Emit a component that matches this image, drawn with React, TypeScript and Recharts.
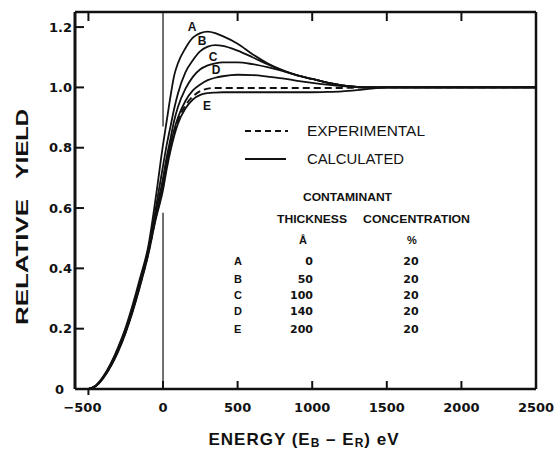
import React from 'react'
import { LineChart, Line, XAxis, YAxis, ReferenceLine } from 'recharts'

// energy grid (eV) and relative yields
const energy = [-500, -450, -400, -350, -300, -250, -200, -150, -100, -50, 0, 25, 50, 75, 100, 150, 200, 250, 300, 350, 400, 500, 600, 700, 800, 900, 1000, 1100, 1200, 1300, 1400, 1500, 2000, 2500]
const curveA = [0, 0.012, 0.042, 0.085, 0.14, 0.205, 0.285, 0.375, 0.47, 0.63, 0.81, 0.89, 0.97, 1.04, 1.08, 1.13, 1.165, 1.18, 1.185, 1.18, 1.17, 1.145, 1.11, 1.08, 1.057, 1.04, 1.028, 1.016, 1.007, 1.002, 1.0, 1.0, 1.0, 1.0]
const curveB = [0, 0.011, 0.04, 0.082, 0.135, 0.198, 0.275, 0.365, 0.46, 0.595, 0.74, 0.81, 0.87, 0.93, 0.98, 1.05, 1.09, 1.12, 1.135, 1.14, 1.138, 1.122, 1.1, 1.077, 1.056, 1.04, 1.028, 1.016, 1.007, 1.002, 1.0, 1.0, 1.0, 1.0]
const curveC = [0, 0.011, 0.04, 0.08, 0.132, 0.195, 0.27, 0.36, 0.455, 0.58, 0.7, 0.77, 0.83, 0.89, 0.935, 0.995, 1.035, 1.06, 1.073, 1.08, 1.083, 1.083, 1.077, 1.067, 1.055, 1.04, 1.028, 1.016, 1.007, 1.002, 1.0, 1.0, 1.0, 1.0]
const curveD = [0, 0.01, 0.038, 0.078, 0.13, 0.192, 0.267, 0.355, 0.45, 0.57, 0.68, 0.75, 0.81, 0.86, 0.9, 0.955, 0.99, 1.01, 1.024, 1.032, 1.037, 1.042, 1.041, 1.036, 1.03, 1.022, 1.015, 1.009, 1.004, 1.001, 1.0, 1.0, 1.0, 1.0]
const curveE = [0, 0.01, 0.036, 0.075, 0.125, 0.187, 0.262, 0.348, 0.443, 0.56, 0.66, 0.73, 0.79, 0.84, 0.88, 0.93, 0.96, 0.975, 0.981, 0.983, 0.984, 0.984, 0.984, 0.984, 0.984, 0.984, 0.984, 0.985, 0.987, 0.991, 0.996, 1.0, 1.0, 1.0]
const experimental = [0, 0.01, 0.037, 0.077, 0.128, 0.19, 0.265, 0.352, 0.447, 0.565, 0.67, 0.74, 0.8, 0.85, 0.89, 0.94, 0.97, 0.988, 0.996, 0.998, 0.998, 0.998, 0.998, 0.998, 0.998, 0.998, 0.998, 0.998, 0.998, 0.999, 1.0, 1.0, 1.0, 1.0]

const xTicks = [-500, 0, 500, 1000, 1500, 2000, 2500]
const yTicks = [0, 0.2, 0.4, 0.6, 0.8, 1.0, 1.2]

const rowNames = ['A', 'B', 'C', 'D', 'E']
const thickness = [0, 50, 100, 140, 200]
const concentration = [20, 20, 20, 20, 20]

const data = energy.map((e, i) => ({
  energy: e,
  A: curveA[i],
  B: curveB[i],
  C: curveC[i],
  D: curveD[i],
  E: curveE[i],
  exp: experimental[i],
}))

const NUM = '"DejaVu Sans", sans-serif'
const TXT = '"Liberation Sans", Arial, sans-serif'
const INK = '#111'

// axis boxes are 1px wide/high, so the tick props sit 1px off the frame
const BottomTick = (props: any) => {
  const { x, payload } = props
  const y = props.y - 1
  const v = payload.value
  const label = v < 0 ? `\u2212${Math.abs(v)}` : String(v)
  return (
    <g>
      <line x1={x} x2={x} y1={y} y2={v === -500 ? y + 7 : y - 7} stroke={INK} strokeWidth={2} />
      <text x={v < 0 ? x - 6 : x} y={y + 19} textAnchor='middle' dominantBaseline='central'
        fontFamily={NUM} fontWeight='bold' fontSize={13} fill={INK}>{label}</text>
    </g>
  )
}

const TopTick = (props: any) => {
  const { x, payload } = props
  const y = props.y + 1
  if (payload.value === 0 || payload.value === 2500) return <g />
  return <line x1={x} x2={x} y1={y} y2={y + 8} stroke={INK} strokeWidth={2} />
}

const LeftTick = (props: any) => {
  const { y, payload } = props
  const x = props.x + 1
  const v = payload.value
  const label = v === 0 ? '0' : v.toFixed(1)
  return (
    <g>
      {v !== 0 && <line x1={x} x2={x + 8} y1={y} y2={y} stroke={INK} strokeWidth={2} />}
      <text x={v === 0 ? x - 12 : x - 4} y={y} textAnchor='end' dominantBaseline='central'
        fontFamily={NUM} fontWeight='bold' fontSize={13} fill={INK}>{label}</text>
    </g>
  )
}

const RightTick = (props: any) => {
  const { y, payload } = props
  const x = props.x - 1
  if (payload.value === 0) return <g />
  return <line x1={x} x2={x - 9} y1={y} y2={y} stroke={INK} strokeWidth={2} />
}

const lineProps = {
  type: 'monotone' as const,
  stroke: INK,
  strokeWidth: 1.8,
  dot: false,
  activeDot: false,
  isAnimationActive: false,
}

export default function App() {
  return (
    <div style={{ position: 'absolute', left: 0, top: 0, width: 559, height: 454, background: '#fff' }}>
      <LineChart width={559} height={454} data={data}
        margin={{ top: 11, right: 22, bottom: 64, left: 74 }}>
        <XAxis dataKey='energy' type='number' domain={[-590, 2500]} ticks={xTicks}
          height={1} tickSize={0} tickMargin={0} tick={<BottomTick />}
          axisLine={{ stroke: INK, strokeWidth: 2.5 }} tickLine={false} interval={0} />
        <XAxis xAxisId='top' orientation='top' dataKey='energy' type='number' domain={[-590, 2500]}
          ticks={xTicks} height={1} tickSize={0} tickMargin={0} tick={<TopTick />}
          axisLine={{ stroke: INK, strokeWidth: 2.5 }} tickLine={false} interval={0} />
        <YAxis type='number' domain={[0, 1.25]} ticks={yTicks} width={1} tickSize={0} tickMargin={0}
          tick={<LeftTick />} axisLine={{ stroke: INK, strokeWidth: 3 }} tickLine={false} interval={0} />
        <YAxis yAxisId='right' orientation='right' type='number' domain={[0, 1.25]} ticks={yTicks}
          width={1} tickSize={0} tickMargin={0} tick={<RightTick />}
          axisLine={{ stroke: INK, strokeWidth: 2.5 }} tickLine={false} interval={0} />

        <ReferenceLine segment={[{ x: 0, y: 0 }, { x: 0, y: 0.584 }]} stroke={INK} strokeWidth={1.2} />
        <ReferenceLine segment={[{ x: 0, y: 0.87 }, { x: 0, y: 1.25 }]} stroke={INK} strokeWidth={1.2} />

        <Line dataKey='exp' {...lineProps} strokeDasharray='7 4' />
        <Line dataKey='E' {...lineProps} />
        <Line dataKey='D' {...lineProps} />
        <Line dataKey='C' {...lineProps} />
        <Line dataKey='B' {...lineProps} />
        <Line dataKey='A' {...lineProps} />

        {/* curve labels */}
        <g fontFamily={TXT} fontWeight='bold' fontSize={12} fill={INK} textAnchor='middle' dominantBaseline='central'>
          <text x={192} y={27}>A</text>
          <text x={202} y={41}>B</text>
          <text x={213} y={57}>C</text>
          <text x={216} y={70}>D</text>
          <text x={207} y={106}>E</text>
        </g>

        {/* legend */}
        <line x1={245} x2={288} y1={131} y2={131} stroke={INK} strokeWidth={1.8} strokeDasharray='6 4' />
        <line x1={245} x2={286} y1={159} y2={159} stroke={INK} strokeWidth={1.8} />
        <g fontFamily={TXT} fontSize={14} fill={INK} dominantBaseline='central'>
          <text x={307} y={131} textLength={118} lengthAdjust='spacingAndGlyphs'>EXPERIMENTAL</text>
          <text x={307} y={159} textLength={97} lengthAdjust='spacingAndGlyphs'>CALCULATED</text>
        </g>

        {/* contaminant table */}
        <g fontFamily={TXT} fontWeight='bold' fontSize={11} fill={INK} dominantBaseline='central'>
          <text x={303} y={197} textLength={89} lengthAdjust='spacingAndGlyphs'>CONTAMINANT</text>
          <text x={277} y={219} textLength={70} lengthAdjust='spacingAndGlyphs'>THICKNESS</text>
          <text x={363} y={219} textLength={107} lengthAdjust='spacingAndGlyphs'>CONCENTRATION</text>
          <text x={303} y={240} textAnchor='middle'>Å</text>
          <text x={412} y={240} textAnchor='middle'>%</text>
          {rowNames.map((n, i) => {
            const ry = [261, 279, 295, 311, 329][i]
            return (
              <g key={n}>
                <text x={234} y={ry}>{n}</text>
                <text x={313} y={ry} textAnchor='end' fontFamily={NUM}>{thickness[i]}</text>
                <text x={411} y={ry} textAnchor='middle' fontFamily={NUM}>{concentration[i]}</text>
              </g>
            )
          })}
        </g>

        {/* axis titles */}
        <g fontFamily={TXT} fontWeight='bold' fontSize={17} fill={INK} textAnchor='middle' dominantBaseline='central'>
          <text x={22} y={262} transform='rotate(-90 22 262)' textLength={126} lengthAdjust='spacingAndGlyphs'>RELATIVE</text>
          <text x={22} y={144} transform='rotate(-90 22 144)' textLength={70} lengthAdjust='spacingAndGlyphs'>YIELD</text>
        </g>
        <text x={304} y={439} textAnchor='middle' dominantBaseline='central'
          fontFamily={TXT} fontWeight='bold' fontSize={17} letterSpacing={1} fill={INK}>
          ENERGY (E<tspan fontSize={12} dy={4}>B</tspan><tspan dy={-4}> {'\u2013'} E</tspan><tspan fontSize={12} dy={4}>R</tspan><tspan dy={-4}>) eV</tspan>
        </text>
      </LineChart>
    </div>
  )
}
